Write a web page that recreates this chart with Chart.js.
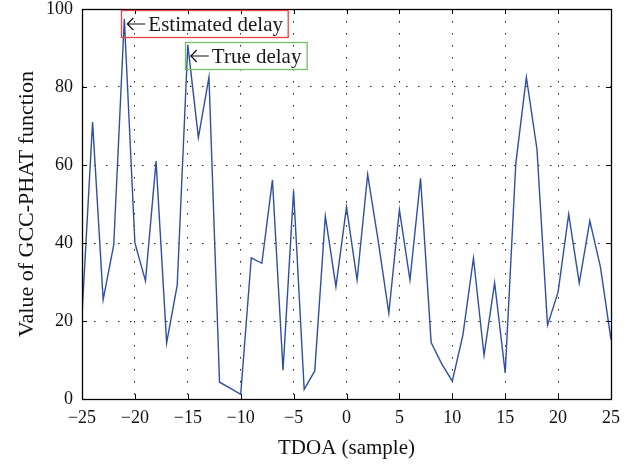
<!DOCTYPE html>
<html>
<head>
<meta charset="utf-8">
<script src="https://cdn.jsdelivr.net/npm/chart.js@4/dist/chart.umd.min.js"></script>
<style>
html,body{margin:0;padding:0;background:#fff;}
#c{display:block;}
</style>
</head>
<body>
<canvas id="c" width="637" height="465"></canvas>
<script>
const tdoa = [-25,-24,-23,-22,-21,-20,-19,-18,-17,-16,-15,-14,-13,-12,-11,-10,-9,-8,-7,-6,-5,-4,-3,-2,-1,0,1,2,3,4,5,6,7,8,9,10,11,12,13,14,15,16,17,18,19,20,21,22,23,24,25];
const gcc = [21.5,71,25.5,39.5,97.5,40,30.3,61,14.4,29.2,90.8,67,82.5,4.3,2.8,1.2,36.2,34.8,56.2,7.4,53.4,2.5,7.2,46.9,28.8,49.2,30.5,57.6,40.5,22,48.5,30.5,56.6,14.5,9,4.6,16.4,36.1,11.2,29.8,6.7,60.3,82.5,64.1,18.9,27.4,47.4,29.7,45.7,33.9,15.2];
const xTicks = [-25,-20,-15,-10,-5,0,5,10,15,20,25];
const yTicks = [0,20,40,60,80,100];
const noteLabels = ['Estimated delay','True delay'];
const noteAt = [-21,-15];
const noteColors = ['#ec3f45','#74c062'];

const SERIF = "'Liberation Serif','Times New Roman',serif";
const minus = v => String(v).replace('-', '\u2212');

const framePlugin = {
  id: 'frame',
  afterDatasetsDraw(chart) {
    const {ctx, chartArea: a, scales: {x, y}} = chart;
    ctx.save();
    ctx.strokeStyle = '#000';
    ctx.lineWidth = 1;
    ctx.setLineDash([]);
    ctx.beginPath();
    xTicks.forEach(v => {
      const px = Math.round(x.getPixelForValue(v)) + 0.5;
      ctx.moveTo(px, a.bottom); ctx.lineTo(px, a.bottom - 5);
      ctx.moveTo(px, a.top); ctx.lineTo(px, a.top + 5);
    });
    yTicks.forEach(v => {
      const py = Math.round(y.getPixelForValue(v)) + 0.5;
      ctx.moveTo(a.left, py); ctx.lineTo(a.left + 5, py);
      ctx.moveTo(a.right, py); ctx.lineTo(a.right - 5, py);
    });
    ctx.stroke();
    ctx.lineWidth = 1.3;
    ctx.strokeRect(Math.round(a.left) + 0.5, Math.round(a.top) + 0.5,
                   Math.round(a.right - a.left), Math.round(a.bottom - a.top));
    ctx.font = '21px ' + SERIF;
    ctx.textBaseline = 'middle';
    ctx.textAlign = 'left';
    const tops = [a.top + 0.5, a.top + 33];
    noteLabels.forEach((txt, i) => {
      const px = x.getPixelForValue(noteAt[i]);
      const left = Math.round(px - 3) + 0.5;
      const top = Math.round(tops[i]) + 0.5;
      const h = 27;
      const tw = ctx.measureText(txt).width;
      const w = 26 + tw + 6;
      ctx.strokeStyle = noteColors[i];
      ctx.lineWidth = 1.3;
      ctx.strokeRect(left, top, w, h);
      const my = top + h / 2;
      ctx.strokeStyle = '#111';
      ctx.lineWidth = 1.2;
      ctx.beginPath();
      ctx.moveTo(px + 3, my); ctx.lineTo(px + 21, my);
      ctx.moveTo(px + 9, my - 6); ctx.lineTo(px + 3, my); ctx.lineTo(px + 9, my + 6);
      ctx.stroke();
      ctx.fillStyle = '#1a1a1a';
      ctx.fillText(txt, px + 24, my + 1);
    });
    ctx.restore();
  }
};

new Chart(document.getElementById('c'), {
  type: 'line',
  data: {
    datasets: [{
      data: tdoa.map((t, i) => ({x: t, y: gcc[i]})),
      borderColor: '#2d4fa5',
      borderWidth: 1.4,
      pointRadius: 0,
      tension: 0,
      fill: false
    }]
  },
  options: {
    responsive: false,
    animation: false,
    devicePixelRatio: 1,
    layout: {padding: {top: 9, right: 26, bottom: 0, left: 0}},
    plugins: {legend: {display: false}, tooltip: {enabled: false}},
    scales: {
      x: {
        type: 'linear', min: -25, max: 25,
        afterBuildTicks: s => { s.ticks = xTicks.map(v => ({value: v})); },
        afterFit: s => { s.height = 66; s.paddingLeft = 0; s.paddingRight = 0; },
        grid: {color: '#222', lineWidth: 1, drawTicks: false},
        border: {display: false, dash: [1.5, 10.5]},
        ticks: {
          callback: v => minus(v),
          autoSkip: false, maxRotation: 0, padding: 8,
          color: '#111', font: {family: SERIF, size: 18}
        },
        title: {
          display: true, text: 'TDOA (sample)', color: '#111',
          font: {family: SERIF, size: 21}, padding: {top: 0, bottom: 4}
        }
      },
      y: {
        type: 'linear', min: 0, max: 100,
        afterBuildTicks: s => { s.ticks = yTicks.map(v => ({value: v})); },
        afterFit: s => { s.width = 82; s.paddingTop = 0; s.paddingBottom = 0; },
        grid: {color: '#222', lineWidth: 1, drawTicks: false},
        border: {display: false, dash: [1.5, 10.5]},
        ticks: {
          callback: v => minus(v),
          padding: 9, color: '#111',
          font: {family: SERIF, size: 18, lineHeight: 1}
        },
        title: {
          display: true, text: 'Value of GCC-PHAT function', color: '#111',
          font: {family: SERIF, size: 22}, padding: {top: 14, bottom: 0}
        }
      }
    }
  },
  plugins: [framePlugin]
});
</script>
</body>
</html>
